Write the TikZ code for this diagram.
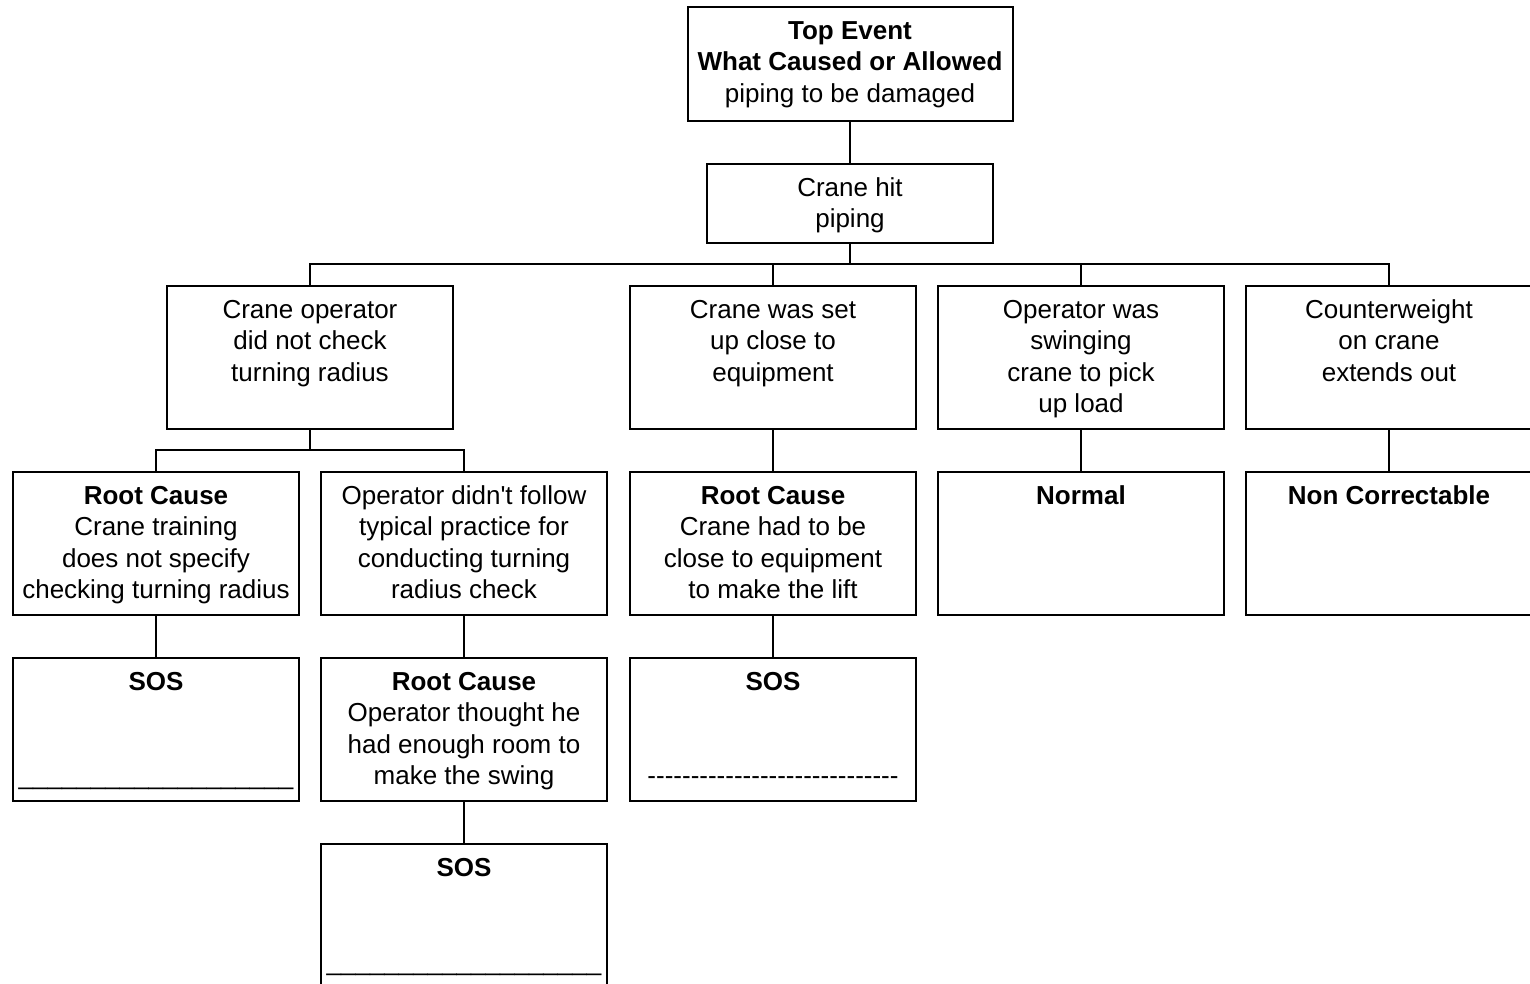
\documentclass[tikz,border=0pt]{standalone}
\usepackage{fontspec}
\setmainfont{Liberation Sans}
\newcommand\bx[3]{\parbox[t][#2][t]{#1}{\centering\fontsize{19.5pt}{23.5pt}\selectfont\rule{0pt}{24.4pt}#3}}
\newcommand\hy{\mbox{-}}
\newcommand\usline{\_\_\_\_\_\_\_\_\_\_\_\_\_\_\_\_\_\_\_}
\begin{document}
\begin{tikzpicture}[x=0.75pt,y=-0.75pt]
\tikzset{
  box/.style={draw,line width=1.5pt,inner sep=0pt,anchor=north west},
  ln/.style={line width=1.5pt}
}
\useasboundingbox (0,0) rectangle (1530,984);
\def\W{214.5pt}
\def\H{107.25pt}
% level 0 and 1
\node[box] (top) at (686.5,6) {\bx{243.75pt}{85.5pt}{\textbf{Top Event}\\\textbf{What Caused or Allowed}\\piping to be damaged}};
\node[box] (hit) at (706,163) {\bx{\W}{59.25pt}{Crane hit\\piping}};
% level 2
\node[box] (a) at (166,285) {\bx{\W}{\H}{Crane operator\\did not check\\turning radius}};
\node[box] (b) at (629,285) {\bx{\W}{\H}{Crane was set\\up close to\\equipment}};
\node[box] (c) at (937,285) {\bx{\W}{\H}{Operator was\\swinging\\crane to pick\\up load}};
\node[box] (d) at (1245,285) {\bx{\W}{\H}{Counterweight\\on crane\\extends out}};
% level 3
\node[box] (a1) at (12,471) {\bx{\W}{\H}{\textbf{Root Cause}\\Crane training\\does not specify\\checking turning radius}};
\node[box] (a2) at (320,471) {\bx{\W}{\H}{Operator didn\textquotesingle t follow\\typical practice for\\conducting turning\\radius check}};
\node[box] (b1) at (629,471) {\bx{\W}{\H}{\textbf{Root Cause}\\Crane had to be\\close to equipment\\to make the lift}};
\node[box] (c1) at (937,471) {\bx{\W}{\H}{\textbf{Normal}}};
\node[box] (d1) at (1245,471) {\bx{\W}{\H}{\textbf{Non Correctable}}};
% level 4
\node[box] (a1s) at (12,657) {\bx{\W}{\H}{\textbf{SOS}\\[47pt]\usline}};
\node[box] (a2r) at (320,657) {\bx{\W}{\H}{\textbf{Root Cause}\\Operator thought he\\had enough room to\\make the swing}};
\node[box] (b1s) at (629,657) {\bx{\W}{\H}{\textbf{SOS}\\[47pt]\hy\hy\hy\hy\hy\hy\hy\hy\hy\hy\hy\hy\hy\hy\hy\hy\hy\hy\hy\hy\hy\hy\hy\hy\hy\hy\hy\hy\hy}};
% level 5
\node[box] (a2s) at (320,843) {\bx{\W}{\H}{\textbf{SOS}\\[47pt]\usline}};
% connectors
\coordinate (bus1) at (0,264);
\coordinate (bus2) at (0,450);
\draw[ln] (top.south) -- (hit.north);
\draw[ln] (hit.south) -- (hit.south |- bus1);
\draw[ln] (a.north) -- (a.north |- bus1) -- (d.north |- bus1) -- (d.north);
\draw[ln] (b.north) -- (b.north |- bus1);
\draw[ln] (c.north) -- (c.north |- bus1);
\draw[ln] (a.south) -- (a.south |- bus2);
\draw[ln] (a1.north) -- (a1.north |- bus2) -- (a2.north |- bus2) -- (a2.north);
\draw[ln] (b.south) -- (b1.north);
\draw[ln] (c.south) -- (c1.north);
\draw[ln] (d.south) -- (d1.north);
\draw[ln] (a1.south) -- (a1s.north);
\draw[ln] (a2.south) -- (a2r.north);
\draw[ln] (b1.south) -- (b1s.north);
\draw[ln] (a2r.south) -- (a2s.north);
\end{tikzpicture}
\end{document}
